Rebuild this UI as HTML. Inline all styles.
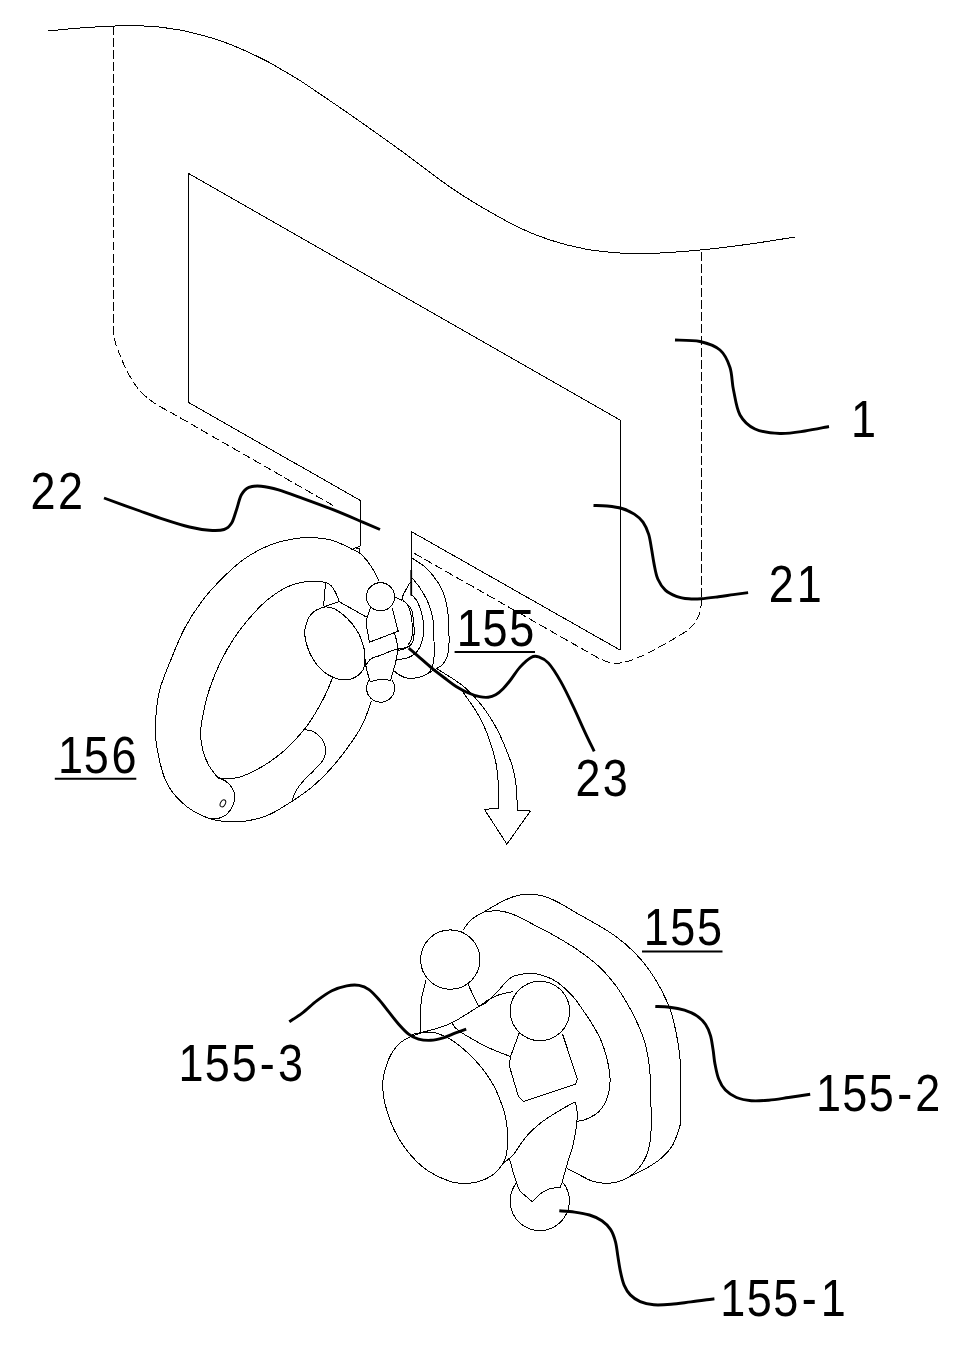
<!DOCTYPE html>
<html lang="en">
<head>
<meta charset="utf-8">
<title>Figure</title>
<style>
html,body{margin:0;padding:0;background:#fff;}
body{width:970px;height:1356px;overflow:hidden;}
svg{display:block;}
.t{fill:none;stroke:#000;stroke-width:1;stroke-linecap:butt;stroke-linejoin:round;shape-rendering:crispEdges;}
.d{fill:none;stroke:#000;stroke-width:1;stroke-dasharray:8.5 3.5;shape-rendering:crispEdges;}
.l{fill:none;stroke:#000;stroke-width:2.9;stroke-linecap:butt;stroke-linejoin:round;}
.u{fill:none;stroke:#000;stroke-width:2;}
text{font-family:"Liberation Sans",sans-serif;fill:#000;}
</style>
</head>
<body>
<svg width="970" height="1356" viewBox="0 0 970 1356">
<rect width="970" height="1356" fill="#fff"/>
<g class="d">
<path d="M113.5 26 V332L113.5 332C113.9 334.2 114.9 341.2 116 345C117.1 348.8 118.5 351.3 120 355C121.5 358.7 123 362.8 125 367C127 371.2 129.5 376 132 380C134.5 384 137 387.7 140 391C143 394.3 146.7 397.4 150 400C153.3 402.6 156.7 404.5 160 406.5C163.3 408.5 168.3 411.1 170 412L335 506.6"/>
<path d="M701.5 252 V600L701.5 600C701.2 602 701.2 608 700 612C698.8 616 696.5 620.7 694 624C691.5 627.3 689 629.2 685 632C681 634.8 675.8 637.7 670 641C664.2 644.3 656.3 648.8 650 652C643.7 655.2 637 658.2 632 660C627 661.8 623.7 662.6 620 663C616.3 663.4 613.3 663.2 610 662.5C606.7 661.8 601.7 659.6 600 659L412.4 552.3"/>
</g>
<g class="t">
<path d="M48.5 31C53.8 30.5 68.9 28.8 80 28C91.1 27.2 103.3 26.3 115 26C126.7 25.7 140.6 25.8 150 26.2C159.4 26.6 165.8 28 171.2 28.7C176.6 29.4 178.5 29.7 182.4 30.5C186.3 31.3 190.6 32.4 194.7 33.4C198.8 34.4 203 35.5 207.1 36.7C211.2 37.9 215.4 39 219.5 40.4C223.6 41.8 227.8 43.5 231.9 45.1C236 46.8 240.1 48.5 244.2 50.3C248.3 52.1 252.5 54.1 256.6 56.1C260.7 58.1 264.9 60.1 269 62.3C273.1 64.5 276.1 66.5 281.3 69.5C286.5 72.5 293.6 76.4 300 80.5C306.4 84.6 311.7 88.3 320 94C328.3 99.7 336.7 105.2 350 114.5C363.3 123.8 383.3 137.9 400 150C416.7 162.1 435.8 177.2 450 187C464.2 196.8 473.3 202.2 485 209C496.7 215.8 509.2 222.8 520 228C530.8 233.2 539.2 236.5 550 240C560.8 243.5 573.3 246.8 585 249C596.7 251.2 609.2 252.2 620 253C630.8 253.8 636.7 254 650 253.5C663.3 253 683.3 251.6 700 250C716.7 248.4 734.2 246.2 750 244C765.8 241.8 787.5 238.2 795 237"/>
<path d="M188.5 402.5 V173.5 L620 420 V650 L411.2 531.5 V595.5"/>
<path d="M188.5 402.5 L360.4 500.5 V546.4"/>
<path d="M379 581.3C378.3 579.8 376.6 575.5 374.6 572.1C372.6 568.7 369.7 564.1 367.2 560.9C364.7 557.7 362.3 555 359.5 552.9C356.7 550.8 354.7 550.3 350.3 548.3C345.9 546.2 339.2 542.4 333 540.6C326.8 538.8 319.8 538 313.2 537.7C306.6 537.4 300.8 537.6 293.4 538.9C286 540.2 276.9 542.2 268.7 545.6C260.4 549 251.8 553.6 243.9 559.2C236.1 564.8 228.6 572 221.6 579C214.6 586 208.1 593 201.9 601.2C195.7 609.5 189.8 618.4 184.5 628.5C179.2 638.6 174.1 651.8 170 662C165.9 672.2 162.1 680.8 159.8 689.5C157.5 698.2 156.8 706.4 156.1 714.2C155.4 722 155.2 729.5 155.6 736.5C156 743.5 157.2 749.7 158.6 756.3C160 762.9 161.9 770.8 163.8 776.1C165.7 781.5 168 785 170 788.4C172 791.8 173.2 793.4 176 796.5C178.8 799.6 183.1 803.8 187 806.8C190.9 809.8 195.2 812.3 199.4 814.4C203.6 816.5 207.6 818.1 212 819.3C216.4 820.5 221.3 821.2 226 821.6C230.7 822 235.2 822.2 240 821.8C244.8 821.4 250 820.5 255 819.3C260 818 264 817.2 270 814.3C276 811.4 283.7 806.7 290.9 802C298.1 797.3 306.2 792 313.2 786C320.2 780 326.8 773.2 333 766.2C339.2 759.2 345.4 750.9 350.3 743.9C355.2 736.9 359.2 731.2 362.7 724.1C366.2 717 370 704.9 371.5 701"/>
<path d="M325.6 582.2C322.7 582.1 314.4 580.7 308.2 581.4C302 582.1 295.1 583.5 288.5 586.4C281.9 589.3 274.9 593.9 268.7 598.8C262.5 603.7 257.1 609.4 251.3 616C245.5 622.6 239.1 630.6 234 638.3C228.9 646 224.6 653.5 220.5 662C216.4 670.5 212.2 680.8 209.3 689.5C206.4 698.2 204.6 706.8 203.1 714.2C201.6 721.6 200.6 727.8 200.6 734C200.6 740.2 201.6 745.9 203.1 751.3C204.6 756.7 206.8 761.8 209.3 766.2C211.8 770.6 216.5 775.9 217.9 777.8"/>
<path d="M217.9 777.8C219.3 777.9 223.1 778.7 226.6 778.6C230.1 778.5 234.5 778.5 239 777.3C243.5 776 248.9 773.6 253.8 771.1C258.8 768.6 263.8 765.8 268.7 762.5C273.6 759.2 279 755.2 283.5 751.3C288 747.4 292.4 742.7 295.9 739C299.4 735.3 301.6 732.8 304.5 729.1C307.4 725.4 310.1 721.7 313.2 716.7C316.3 711.8 320.4 704.5 323.1 699.4C325.8 694.2 327.7 689.5 329.3 685.8C330.9 682.1 332.2 678.5 332.8 677"/>
<path d="M217.9 777.8C219.2 778.3 223.1 779.4 225.4 781C227.7 782.6 229.9 784.7 231.5 787.2C233.1 789.7 234.6 792.8 234.8 795.9C235 799 234.2 802.7 232.8 805.8C231.4 808.9 228.9 812.3 226.6 814.4C224.3 816.5 221.9 817.4 219.2 818.1C216.5 818.8 213.8 819.2 210.5 818.6C207.2 818 201.2 815.1 199.4 814.4"/>
<path d="M303.3 729.6C304.9 729.9 310.1 729.9 313.2 731.5C316.3 733.1 319.8 736.1 321.9 739C324 741.9 325.4 745.4 325.6 748.9C325.8 752.4 325.2 756.3 323.1 760C321 763.7 316.5 767.6 313.2 771.1C309.9 774.6 306.2 777.7 303.3 781C300.4 784.3 297.8 787.6 295.9 790.9C294 794.2 292.8 799.1 292.2 800.8"/>
<path d="M325.6 582.2 L323.6 606.4"/>
<path d="M325.6 582.2C326.6 582.9 330 584.3 331.8 586.4C333.6 588.5 335.5 592.5 336.7 595C337.9 597.5 338.8 600.6 339.2 601.7"/>
<path d="M323.6 606.7 L339.2 601.7 L366.4 617"/>
<path d="M351 549.8 L356 547.6 L360.3 546.4"/>
<path d="M356 548.5 H360.3 M359.4 548.5 V553.5"/>
<path d="M391.8 679.8 A14 14 0 1 1 369.4 679.8"/>
<path d="M370.6 607.5 L366.3 620 L366 623 L369.5 642.2 L398.2 631.2 L392.2 608"/>
<path d="M394.4 632.9C394.8 634.5 396.4 639.2 396.9 642.2C397.4 645.2 397.7 647.5 397.5 650.8C397.3 654.1 396.5 658.3 395.7 662C394.9 665.7 393.4 670 392.6 673.1C391.8 676.2 391 679.3 390.7 680.5"/>
<path d="M365.4 659.5C365.6 661.1 365.8 665.7 366.6 669.4C367.4 673.1 369.7 679.7 370.3 681.8"/>
<path d="M364.7 666.9C365.7 665.6 368.2 660.8 370.9 658.9C373.6 657 377.1 656.7 380.8 655.2C384.5 653.8 389.7 651.3 393.2 650.2C396.7 649.1 399.5 648.9 401.9 648.4C404.3 647.9 405.9 647.7 407.4 647.1C408.9 646.5 410.5 645 411.1 644.6"/>
<path d="M370.3 681.8C372.1 681.4 377.4 679.5 380.8 679.3C384.2 679.1 389.1 680.3 390.7 680.5"/>
<path d="M394.4 596.8 L402.5 600.5"/>
<path d="M412.4 558.2C414.8 559.9 422.4 564.4 426.6 568.4C430.8 572.4 434.8 577.7 437.7 582C440.6 586.3 442.3 590.2 443.9 594.3C445.4 598.4 446.2 602 447 606.7C447.8 611.4 448.3 615.7 448.6 622.4C448.9 629.1 449.2 641.3 448.9 647.1C448.6 652.9 448 654.1 447 657C446 659.9 444.4 662.5 442.7 664.4C440.9 666.3 439.2 667 436.5 668.6C433.8 670.2 428.2 673.3 426.6 674.3"/>
<path d="M411.8 577.6C413 579.1 416.7 583.3 419.2 586.9C421.7 590.5 424.7 595.4 426.6 599.3C428.6 603.2 429.8 606.5 430.9 610.4C432 614.2 432.9 617.3 433.4 622.4C433.9 627.5 433.9 635.1 434 640.9C434.1 646.7 434.3 652.7 434 657C433.7 661.3 433.4 664 432.2 666.9C431 669.8 429.2 672.5 426.6 674.3C424 676.1 420 677.2 416.7 677.8C413.4 678.4 409.7 678.5 406.8 678C403.9 677.5 401.5 676.1 399.4 675C397.3 673.9 395.2 671.8 394.4 671.2"/>
<path d="M411.1 594.3C412 595.3 415.1 598 416.7 600.5C418.2 603 419.3 605.8 420.4 609.2C421.5 612.6 422.7 616.8 423.2 621C423.7 625.2 424 630.6 423.5 634.7C423 638.9 421.7 642.8 420.4 645.9C419.1 649 417.8 651.2 415.5 653.3C413.2 655.3 409.9 657.2 406.8 658.2C403.7 659.2 398.5 659.3 396.9 659.5"/>
<path d="M410.5 582C409.9 583 408.1 585.6 406.8 588.1C405.5 590.6 403.1 594.7 402.5 596.8C401.9 598.9 402.3 599.3 403.1 600.5C403.9 601.7 405.9 602.6 407.4 604.2C408.8 605.9 410.8 607.4 411.8 610.4C412.8 613.4 413.2 618.8 413.6 622.4C414 626 414.3 629.2 414.2 632.3C414.1 635.4 413.8 638.5 413 640.9C412.2 643.3 411.2 645 409.3 646.5C407.4 648 404 648.9 401.9 649.6C399.8 650.3 397.7 650.4 396.9 650.6"/>
<path d="M407.4 604.2C407.9 605.4 409.5 608.5 410.3 611.5C411.1 614.5 411.6 619 412 622.4C412.4 625.8 412.5 629.1 412.4 632C412.3 634.9 411.9 637.8 411.2 640C410.5 642.2 408.5 644.2 408 645"/>
<path d="M461.9 690.6C463.4 692.8 467.9 699.1 470.9 703.5C473.8 707.9 476.9 712.1 479.6 717.1C482.3 722.1 484.9 728.1 487 733.2C489.1 738.4 490.6 743.2 492 748C493.4 752.8 494.8 757.2 495.7 761.7C496.6 766.2 497.1 770.2 497.6 774.9C498.1 779.6 498.4 784.1 498.5 789.7C498.6 795.3 498.5 805.2 498.5 808.3"/>
<path d="M498.5 808.3 L484.4 809.3 L506.9 844.2 L530.4 811 L517.4 810.5"/>
<path d="M517.4 810.5C517.3 808.1 517.1 800.8 516.8 795.9C516.5 791 516.3 785.9 515.6 781.1C514.9 776.3 513.9 771.5 512.6 767C511.3 762.5 509.8 758.8 508 754.2C506.2 749.6 504.2 744.4 501.9 739.4C499.6 734.4 497.1 729.2 494.4 724.5C491.7 719.8 488.9 715.2 485.8 710.9C482.7 706.6 479.4 702.5 475.9 698.6C472.4 694.7 468.2 690.5 464.7 687.4C461.2 684.3 459.4 683.1 454.8 680C450.2 676.9 440.1 670.8 437.1 669"/>
<path d="M562.3 1181.8 A29.6 29.6 0 1 1 516.6 1182.6"/>
<path d="M462.7 930.6C464.1 928.8 467.8 922.6 471.3 919.5C474.8 916.4 479.1 914.8 483.7 912.1C488.2 909.4 493.7 906 498.6 903.4C503.6 900.8 508.5 898.2 513.4 896.7C518.3 895.2 523.2 894.3 528.2 894.2C533.2 894.1 538.2 894.7 543.1 896C548 897.3 551.9 899.1 557.9 902.2C563.9 905.3 572.4 910.6 579.2 914.5C586.1 918.4 592.8 922 599 925.7C605.2 929.4 610.5 932.5 616.3 936.8C622.1 941.1 628.2 946.2 633.6 951.6C639 957 644 962.8 648.5 969C653 975.2 657.1 981.8 660.8 988.8C664.5 995.8 668.2 1004 670.7 1011C673.2 1018 674.3 1024.3 675.7 1030.8C677.1 1037.3 678.2 1043.5 679 1050C679.8 1056.5 680.3 1058 680.6 1069.5C680.9 1081 681 1108.7 680.6 1119C680.2 1129.3 679.5 1126.8 678.1 1131.3C676.7 1135.8 674.9 1141.7 672 1146.2C669.1 1150.8 665.1 1154.9 660.8 1158.6C656.5 1162.3 651.4 1165.4 646 1168.5C640.6 1171.6 631.6 1175.7 628.7 1177.1"/>
<path d="M483.7 912.1C486.2 911.9 493.7 910.4 498.6 910.8C503.6 911.2 507.6 912.2 513.4 914.5C519.2 916.8 526.4 920.9 533.2 924.4C540 927.9 547.1 931.5 554.4 935.6C561.6 939.7 569.3 944.1 576.7 949.2C584.1 954.4 592.4 960.3 599 966.5C605.6 972.7 611.3 979.7 616.3 986.3C621.2 992.9 625 999.5 628.7 1006.1C632.4 1012.7 635.8 1019.4 638.6 1025.9C641.4 1032.4 643.6 1037.7 645.5 1045C647.4 1052.3 648.8 1060.1 649.7 1069.5C650.6 1078.9 650.7 1090.9 650.9 1101.6C651.1 1112.3 651.5 1125.1 650.9 1133.8C650.3 1142.5 649.2 1147.8 647.2 1153.6C645.2 1159.4 641.7 1164.6 638.6 1168.5C635.5 1172.4 632.4 1174.8 628.7 1177.1C625 1179.4 620.4 1181.1 616.3 1182.1C612.2 1183.1 608 1183.5 603.9 1183.3C599.8 1183.1 596 1182.4 591.5 1180.8C587 1179.2 580.8 1175.5 576.7 1173.4C572.6 1171.4 568.4 1169.3 566.8 1168.5"/>
<path d="M478.6 1006.6C479.9 1005.9 483.2 1005.1 486.6 1002.3C490 999.5 495.8 993.3 499 989.9C502.2 986.5 503.6 984.3 506 982C508.4 979.7 509.7 977.7 513.4 976.3C517.1 974.9 523.2 973.5 528.2 973.4C533.2 973.3 538.2 974 543.1 975.5C548 977 553 979.1 557.9 982.6C562.8 986.1 568.7 991.7 572.8 996.2C576.9 1000.7 579.2 1004.8 582.5 1009.5C585.8 1014.2 589.4 1019.3 592.5 1024.5C595.6 1029.7 598.5 1034.7 601 1040.5C603.5 1046.3 605.7 1053.1 607.2 1059.6C608.7 1066.1 610 1073.2 610.1 1079.4C610.2 1085.6 609.5 1091.4 607.6 1096.7C605.8 1102 602.5 1107.8 599 1111.5C595.5 1115.2 590.2 1117.3 586.6 1119C583 1120.7 578.8 1121 577.2 1121.4"/>
<path d="M426 980C425.3 983.1 422.5 992.4 421.6 998.6C420.7 1004.8 420.6 1011.4 420.4 1017.1C420.2 1022.8 420.4 1030 420.4 1032.6"/>
<path d="M467.8 983.7 L478.6 1006.6"/>
<path d="M412.4 1034.4C415.5 1033.7 424.3 1032 430.9 1030.1C437.5 1028.1 444.1 1026.6 452 1022.7C459.9 1018.8 472.8 1010.2 478.6 1006.6C484.4 1003 483.2 1003 486.6 1001C490 999 494.6 996.4 499 994.8C503.4 993.2 510.7 992.1 513 991.6"/>
<path d="M452 1022.7C452.6 1023.6 453.6 1026.2 455.7 1028.2C457.8 1030.2 459.1 1031.3 464.3 1034.4C469.5 1037.5 478.9 1043.1 486.6 1046.8C494.3 1050.5 506.7 1055 510.7 1056.7"/>
<path d="M429.4 1032.1C432.3 1032.2 434.5 1032.4 438 1033.6C441.5 1034.8 446.3 1036.7 450.4 1039.2C454.5 1041.7 458.6 1045 462.8 1048.5C467 1052 471.5 1056.4 475.3 1060.4C479.1 1064.5 482.3 1068.3 485.5 1072.8C488.7 1077.3 491.9 1082.1 494.5 1087.2C497.1 1092.3 499.4 1098.2 501.3 1103.3C503.2 1108.4 504.7 1113.2 505.7 1118.1C506.7 1122.9 507.2 1128 507.5 1132.4C507.8 1136.8 507.7 1141 507.5 1144.7C507.3 1148.4 506.9 1151.7 506.3 1154.6C505.7 1157.5 504.9 1159.8 503.8 1162.1C502.7 1164.4 501.2 1166.2 499.5 1168.2C497.8 1170.2 495.8 1172.5 493.3 1174.4C490.8 1176.3 487.7 1178.1 484.6 1179.4C481.5 1180.8 478.4 1181.8 474.7 1182.5C471 1183.2 466.5 1183.5 462.4 1183.3C458.3 1183.1 455.5 1183.3 450 1181.4C444.5 1179.5 435.1 1175.3 429.4 1171.8C423.7 1168.3 420.1 1164.9 415.8 1160.6C411.5 1156.3 406.9 1150.8 403.4 1145.8C399.9 1140.8 397.2 1135.9 394.7 1130.9C392.2 1126 390.4 1121.2 388.6 1116.1C386.9 1110.9 385.2 1105.1 384.2 1100C383.2 1094.9 382.8 1089.6 382.7 1085.6C382.6 1081.5 382.9 1079.2 383.6 1075.7C384.3 1072.2 385.2 1068.4 386.7 1064.5C388.1 1060.6 389.9 1055.9 392.3 1052.2C394.7 1048.5 397.8 1044.9 400.9 1042.3C404 1039.7 407.5 1038.2 410.8 1036.7C414.1 1035.2 417.6 1033.8 420.7 1033C423.8 1032.2 426.5 1032 429.4 1032.1Z"/>
<path d="M327.2 607C328.6 607 329.7 607.1 331.4 607.7C333.1 608.3 335.3 609.2 337.3 610.4C339.3 611.6 341.3 613.2 343.3 614.9C345.3 616.6 347.5 618.6 349.3 620.6C351.2 622.5 352.7 624.4 354.2 626.6C355.8 628.7 357.3 631.1 358.6 633.5C359.9 636 361 638.8 361.9 641.3C362.8 643.7 363.5 646.1 364 648.4C364.5 650.7 364.7 653.1 364.8 655.3C365 657.4 364.9 659.4 364.8 661.2C364.7 663 364.6 664.6 364.3 666C364 667.4 363.6 668.5 363.1 669.6C362.5 670.7 361.8 671.5 361 672.5C360.1 673.5 359.2 674.6 358 675.5C356.8 676.4 355.3 677.3 353.8 677.9C352.3 678.6 350.8 679.1 349 679.4C347.3 679.7 345.1 679.9 343.1 679.8C341.1 679.7 339.8 679.8 337.1 678.9C334.5 678 330 675.9 327.2 674.3C324.5 672.6 322.8 670.9 320.7 668.9C318.6 666.8 316.4 664.1 314.7 661.7C313 659.3 311.7 656.9 310.5 654.6C309.3 652.2 308.4 649.9 307.6 647.4C306.7 644.9 305.9 642.1 305.5 639.7C305 637.2 304.8 634.7 304.7 632.7C304.7 630.8 304.8 629.7 305.2 628C305.5 626.3 306 624.5 306.7 622.6C307.4 620.7 308.2 618.4 309.4 616.6C310.5 614.9 312 613.1 313.5 611.9C315 610.6 316.7 609.9 318.3 609.2C319.9 608.4 321.5 607.8 323 607.4C324.5 607 325.8 606.9 327.2 607Z"/>
<path d="M519.2 1033 L510.5 1056.6 L509.3 1065.8 L518.5 1096.7 L523.4 1101.6 L575.4 1084.3 L577.4 1079 L562.4 1033.6"/>
<path d="M575.4 1101.6C575.7 1103.4 577 1108.6 577.2 1112.5C577.4 1116.4 577.3 1119.6 576.6 1125C575.9 1130.4 574.7 1138 573 1145C571.3 1152 568.1 1160.7 566.3 1167C564.5 1173.3 562.7 1180.4 562 1183.1"/>
<path d="M575.4 1101.6C572.5 1103.2 563.1 1108.3 557.9 1111.5C552.7 1114.7 547.8 1117.8 544 1120.5C540.2 1123.2 538.3 1124.8 535.4 1127.4C532.5 1130 529.4 1133 526.7 1136.1C524 1139.2 521.4 1143.1 519.3 1146C517.2 1148.9 515.9 1151.3 514.3 1153.4C512.6 1155.5 511.4 1156.6 509.4 1158.4C507.3 1160.2 503.2 1163.5 502 1164.5"/>
<path d="M509.4 1158.4 L513.1 1172 L516.8 1183.7 L519.9 1191.1 L532.3 1201.7"/>
<path d="M532.3 1201.7C533.8 1200.2 538.6 1195.2 541.6 1193C544.6 1190.8 547.1 1189.6 550.2 1188.7C553.3 1187.8 558.5 1187.6 560.1 1187.4L562 1183.1"/>
</g>
<ellipse class="t" cx="222.9" cy="803.3" rx="2.4" ry="3.8" transform="rotate(28 222.9 803.3)"/>
<circle class="t" cx="380.5" cy="596.8" r="14.1"/>
<path d="M411.2 570 V595.5" fill="none" stroke="#000" stroke-width="1.8"/>
<circle class="t" cx="450.3" cy="959.6" r="29.7"/>
<circle class="t" cx="539.9" cy="1011" r="29.7"/>
<g class="l">
<path d="M675 340C679.2 340.2 692.5 339.8 700 341.5C707.5 343.2 715 345.7 720 350C725 354.3 727.8 360.8 730 367.5C732.2 374.2 731.8 382.1 733.5 390C735.2 397.9 736.4 408.5 740 415C743.6 421.5 748.3 425.9 755 429C761.7 432.1 771.7 433.2 780 433.5C788.3 433.8 796.8 432.2 805 431C813.2 429.8 825 427.2 829 426.5"/>
<path d="M104 498C110 500.2 129.9 507.4 140 511C150.1 514.6 156.4 516.9 164.7 519.6C172.9 522.3 182.1 525.2 189.5 527C196.9 528.8 203.5 529.8 209.3 530.2C215.1 530.6 220.4 530.6 224.1 529.5C227.8 528.4 229.4 526.6 231.5 523.3C233.6 520 234.8 514.4 236.5 509.7C238.2 504.9 239.3 498.5 241.4 494.8C243.5 491.1 245.6 488.8 248.9 487.4C252.2 486 256.2 485.8 261.2 486.2C266.1 486.6 271.6 487.8 278.6 489.9C285.6 492 294.2 495.3 303.3 498.6C312.4 501.9 323.1 505.8 333 509.7C342.9 513.6 354.9 518.8 362.7 522.1C370.5 525.4 377.1 528.3 380 529.5"/>
<path d="M593.5 505.5C595.8 505.6 602.4 505.5 607.1 506C611.9 506.5 617.5 507.1 622 508.5C626.5 509.9 630.8 511.8 634.3 514.1C637.8 516.4 640.6 518.7 643 522.1C645.4 525.5 647.3 529.9 648.7 534.4C650.1 538.9 650.7 544.3 651.6 549.3C652.5 554.2 653.1 559.1 654.1 564.1C655.1 569.1 655.9 574.7 657.8 579C659.7 583.3 662.2 587.2 665.3 590.1C668.4 593 672.5 594.8 676.4 596.3C680.3 597.8 684.7 598.4 688.8 598.8C692.9 599.2 696.1 599.1 701.1 598.8C706.1 598.5 713.1 597.5 718.5 596.8C723.9 596.1 728.4 595.3 733.3 594.6C738.2 593.9 745.6 592.9 748.1 592.6"/>
<path d="M408.7 648.2C410.4 649.6 414.7 653.2 418.6 656.6C422.5 660 427.5 664.5 432.2 668.4C436.9 672.3 443 676.8 447 679.8C451 682.8 452.5 684.2 456.1 686.4C459.7 688.6 464.6 691.3 468.5 693C472.4 694.7 476.3 696 479.6 696.7C482.9 697.4 485.5 697.6 488.2 697.3C490.9 697 493.2 696.2 495.7 694.8C498.2 693.4 500.6 691.2 503.1 688.7C505.6 686.2 507.7 683.6 510.5 680C513.3 676.4 516.6 670.9 520 667.1C523.4 663.3 528 659.1 531.1 657.4C534.2 655.7 535.7 655.9 538.6 656.9C541.5 657.9 544.8 659 548.5 663.1C552.2 667.2 556.7 674.4 560.8 681.6C564.9 688.8 569.1 697.7 573.2 706.4C577.3 715.1 582.1 726.1 585.6 733.6C589.1 741.1 592.8 748.4 594.2 751.4"/>
<path d="M289.3 1021.8C291.4 1020.3 297.6 1016.6 302.2 1013.1C306.8 1009.6 312.1 1004.4 317 1000.7C321.9 997 326.9 993.3 331.9 990.8C336.8 988.3 342.2 986.8 346.7 985.9C351.2 985 355.4 984.8 359.1 985.4C362.8 986 365.7 987.2 369 989.6C372.3 992 375.6 995.8 378.9 999.5C382.2 1003.2 385.5 1007.8 388.8 1011.9C392.1 1016 395.4 1020.5 398.7 1024.2C402 1027.9 405.3 1031.6 408.6 1034.1C411.9 1036.6 414.8 1038.1 418.5 1039.1C422.2 1040.1 426.7 1040.5 430.8 1040.3C434.9 1040.1 439.1 1039 443.2 1037.8C447.3 1036.6 451.8 1034.3 455.6 1032.9C459.4 1031.5 464.4 1029.8 466.2 1029.2"/>
<path d="M655.3 1006.5C657.7 1006.6 664.8 1006.6 669.7 1007.2C674.6 1007.8 680 1008.8 684.5 1010.2C689 1011.7 693.4 1013.5 696.9 1015.9C700.4 1018.3 703.3 1021.2 705.6 1024.5C707.9 1027.8 709.3 1031.6 710.5 1035.7C711.7 1039.8 712.2 1044.6 713 1049.3C713.8 1054 714 1059.1 715 1064.1C716 1069 717 1074.7 718.7 1079C720.4 1083.3 722.4 1087 725.4 1090.1C728.4 1093.2 732.2 1095.7 736.5 1097.5C740.8 1099.3 745.9 1100.2 751.3 1100.7C756.7 1101.2 762.5 1100.7 768.7 1100.2C774.9 1099.7 781.6 1098.5 788.5 1097.5C795.4 1096.5 806.6 1094.8 810.2 1094.3"/>
<path d="M559.3 1210.8C561.8 1211 569.6 1211.4 574.6 1212.1C579.6 1212.8 585 1213.6 589.5 1215C594 1216.4 598.4 1218.3 601.9 1220.7C605.4 1223.1 608.2 1225.9 610.5 1229.4C612.8 1232.9 614.3 1237.3 615.5 1241.8C616.7 1246.3 617.1 1251.7 617.9 1256.6C618.7 1261.5 619.4 1266.7 620.4 1271.4C621.4 1276.2 622.5 1281.2 624.1 1285.1C625.8 1289 627.6 1292.2 630.3 1294.9C633 1297.7 636.3 1299.9 640.2 1301.6C644.1 1303.2 648.6 1304.3 653.8 1304.8C658.9 1305.2 664.9 1304.8 671.1 1304.3C677.3 1303.8 683.7 1302.8 690.9 1301.9C698.1 1301 710.5 1299.2 714.4 1298.7"/>
</g>
<g font-size="51.7" transform="scale(0.87 1)">
<text x="978.1" y="437.0">1</text>
<text x="35.0 66.6" y="508.6">22</text>
<text x="883.7 915.9" y="601.6">21</text>
<text x="661.6 692.9" y="796.3">23</text>
<text x="525.0 554.7 585.5" y="646.5">155</text>
<text x="66.6 96.2 128.2" y="773.0">156</text>
<text x="739.9 770.5 801.2" y="945.5">155</text>
<text x="205.3 235.3 266.3 298.5 319.6" y="1080.7">155-3</text>
<text x="937.9 968.1 998.6 1031.2 1052.1" y="1111.0">155-2</text>
<text x="828.0 858.3 888.9 921.5 943.3" y="1315.6">155-1</text>
</g>
<path class="u" d="M454.6 651.9H535.0"/>
<path class="u" d="M54.8 778.8H136.3"/>
<path class="u" d="M642.0 951.5H722.5"/>
</svg>
</body>
</html>
